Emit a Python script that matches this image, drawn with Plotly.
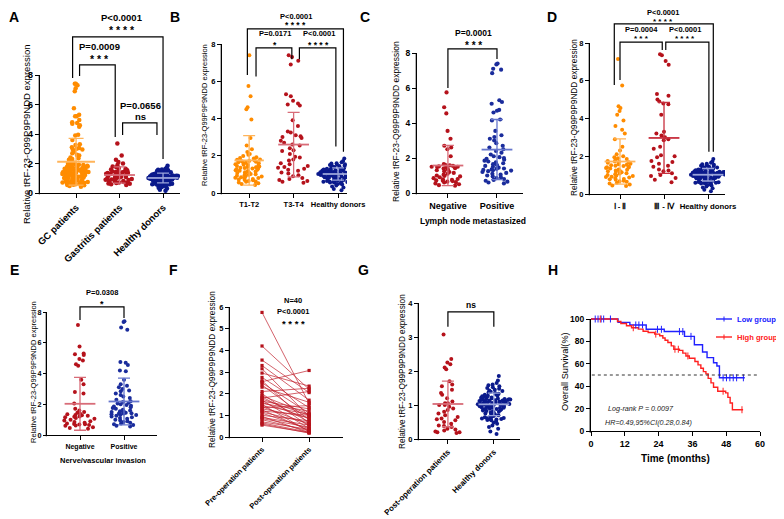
import plotly.graph_objects as go

W, H = 784, 519
# the page body shifts the figure by 8px; positions below are reference-picture pixels
OX, OY = 8, 8
FONT = "Arial, 'Liberation Sans', Helvetica, sans-serif"

ORANGE = "#FF8C00"
DKRED = "#B5121B"
NAVY = "#0B1A8C"
BLUE2 = "#1A2C9C"
ORANGE_M = "#FFB45A"
RED_M = "#D86C78"
NAVY_M = "#9AA4DA"
BLUE2_M = "#6676CC"

# ---------------- data ----------------
healthy_donors = [0.15, 0.22, 0.30, 0.35, 0.40, 0.45, 0.48, 0.52, 0.55, 0.56, 0.57, 0.58, 0.59, 0.60,
                  0.61, 0.62, 0.63, 0.64, 0.66, 0.68, 0.70, 0.72, 0.74, 0.75, 0.77, 0.78, 0.80, 0.81,
                  0.82, 0.84, 0.85, 0.86, 0.87, 0.88, 0.89, 0.90, 0.91, 0.92, 0.92, 0.93, 0.94, 0.95,
                  0.95, 0.96, 0.97, 0.97, 0.98, 0.99, 1.00, 1.00, 1.01, 1.02, 1.02, 1.03, 1.04, 1.04,
                  1.05, 1.05, 1.06, 1.07, 1.08, 1.09, 1.10, 1.10, 1.11, 1.12, 1.12, 1.13, 1.13, 1.14,
                  1.15, 1.15, 1.16, 1.16, 1.17, 1.18, 1.18, 1.19, 1.20, 1.21, 1.22, 1.23, 1.24, 1.25,
                  1.26, 1.27, 1.28, 1.30, 1.31, 1.33, 1.35, 1.37, 1.39, 1.41, 1.43, 1.45, 1.48, 1.50,
                  1.52, 1.55, 1.58, 1.60, 1.65, 1.72, 1.85]

t1_t2 = [7.40, 5.75, 5.20, 4.60, 4.50, 3.95, 2.95, 2.55, 2.35, 2.20, 2.10, 2.05, 1.98, 1.92,
         1.88, 1.85, 1.80, 1.78, 1.75, 1.72, 1.70, 1.68, 1.65, 1.62, 1.60, 1.58, 1.55, 1.52,
         1.50, 1.48, 1.45, 1.42, 1.40, 1.38, 1.36, 1.34, 1.32, 1.30, 1.28, 1.25, 1.22, 1.20,
         1.18, 1.15, 1.12, 1.10, 1.08, 1.05, 1.02, 1.00, 0.98, 0.95, 0.92, 0.90, 0.88, 0.85,
         0.82, 0.80, 0.78, 0.75, 0.72, 0.70, 0.68, 0.65, 0.62, 0.60, 0.56, 0.52, 0.48, 0.43]
t3_t4 = [7.40, 7.30, 7.10, 6.90, 5.30, 5.20, 4.95, 4.80, 4.75, 4.70, 3.90, 3.60, 3.30, 3.25,
         3.10, 3.05, 3.00, 2.95, 2.80, 2.70, 2.60, 2.55, 2.40, 2.30, 2.25, 2.10, 1.95, 1.90,
         1.80, 1.75, 1.60, 1.55, 1.45, 1.40, 1.35, 1.30, 1.25, 1.20, 1.10, 1.05, 0.95, 0.90,
         0.80, 0.75, 0.70, 0.65, 0.60, 0.55]
gc_patients = t1_t2 + t3_t4
gastritis_patients = [3.35, 2.55, 2.25, 2.10, 2.00, 1.90, 1.80, 1.75, 1.70, 1.65, 1.60, 1.55,
                      1.50, 1.48, 1.45, 1.42, 1.40, 1.38, 1.35, 1.32, 1.30, 1.28, 1.25, 1.22,
                      1.20, 1.18, 1.15, 1.12, 1.10, 1.08, 1.05, 1.02, 1.00, 0.98, 0.95, 0.92,
                      0.90, 0.88, 0.85, 0.82, 0.80, 0.78, 0.75, 0.72, 0.70, 0.68, 0.65, 0.62,
                      0.60, 0.55]

lymph_negative = [5.75, 4.90, 4.55, 3.55, 3.10, 2.70, 2.60, 2.50, 2.10, 1.65, 1.60, 1.58, 1.55,
                  1.52, 1.50, 1.50, 1.48, 1.45, 1.42, 1.40, 1.35, 1.30, 1.25, 1.20, 1.15, 1.10,
                  1.05, 1.00, 0.98, 0.95, 0.90, 0.85, 0.80, 0.78, 0.75, 0.72, 0.70, 0.68, 0.65,
                  0.62, 0.60, 0.55, 0.50, 0.45, 0.42]
lymph_positive = [7.40, 7.35, 7.10, 7.05, 6.85, 5.30, 5.20, 5.10, 4.75, 4.70, 4.60, 4.20, 4.15,
                  3.55, 3.30, 3.20, 3.10, 3.00, 2.85, 2.70, 2.60, 2.50, 2.40, 2.30, 2.20, 2.10,
                  2.05, 2.00, 1.95, 1.90, 1.85, 1.80, 1.75, 1.70, 1.65, 1.60, 1.55, 1.50, 1.45,
                  1.40, 1.38, 1.35, 1.32, 1.30, 1.28, 1.25, 1.20, 1.15, 1.10, 1.05, 1.00, 0.95,
                  0.90, 0.85, 0.80, 0.75, 0.70, 0.65, 0.60, 0.55]

stage_1_2 = [7.15, 5.75, 4.65, 4.55, 4.40, 4.20, 3.90, 3.60, 3.40, 3.20, 2.90, 2.50, 2.30, 2.10,
             2.00, 1.95, 1.90, 1.85, 1.80, 1.75, 1.72, 1.70, 1.68, 1.65, 1.60, 1.58, 1.55, 1.52,
             1.50, 1.48, 1.45, 1.42, 1.40, 1.38, 1.35, 1.30, 1.28, 1.25, 1.22, 1.20, 1.18, 1.15,
             1.10, 1.08, 1.05, 1.00, 0.98, 0.95, 0.92, 0.90, 0.88, 0.85, 0.80, 0.78, 0.75, 0.70,
             0.68, 0.65, 0.60, 0.55, 0.50, 0.45, 0.42]
stage_3_4 = [7.40, 7.35, 7.05, 6.85, 5.30, 5.20, 5.00, 4.90, 4.80, 4.75, 4.20, 3.30, 3.20, 3.10,
             3.00, 2.90, 2.85, 2.50, 2.40, 2.05, 2.00, 1.95, 1.75, 1.70, 1.60, 1.50, 1.45, 1.30,
             1.25, 1.20, 1.10, 1.00, 0.95, 0.85, 0.75, 0.62]

invasion_negative = [7.15, 5.75, 5.30, 5.25, 5.20, 4.95, 4.85, 4.60, 4.50, 3.60, 3.30, 2.80, 2.70,
                     2.05, 1.70, 1.60, 1.50, 1.45, 1.40, 1.35, 1.30, 1.28, 1.25, 1.20, 1.18, 1.15,
                     1.10, 1.05, 1.00, 0.95, 0.90, 0.85, 0.80, 0.75, 0.72, 0.70, 0.68, 0.65, 0.62,
                     0.60, 0.50, 0.45, 0.40]
invasion_positive = [7.40, 7.35, 7.00, 6.85, 4.75, 4.70, 4.55, 4.20, 4.15, 3.60, 3.30, 3.20, 3.10,
                     3.00, 2.90, 2.85, 2.70, 2.60, 2.50, 2.40, 2.30, 2.20, 2.15, 2.10, 2.05, 2.00,
                     1.95, 1.90, 1.85, 1.80, 1.75, 1.70, 1.65, 1.60, 1.55, 1.52, 1.50, 1.48, 1.45,
                     1.42, 1.40, 1.38, 1.35, 1.32, 1.30, 1.25, 1.20, 1.15, 1.10, 1.05, 1.00, 0.95,
                     0.90, 0.85, 0.80, 0.75, 0.70, 0.65, 0.60, 0.55]

pre_operation = [5.75, 4.20, 3.55, 3.30, 3.15, 2.95, 2.75, 2.60, 2.55, 2.50, 2.40, 2.30, 2.10, 2.00,
                 1.90, 1.85, 1.80, 1.75, 1.70, 1.65, 1.60, 1.55, 1.50, 1.45, 1.40, 1.35, 1.30, 1.25,
                 1.20, 1.15, 1.10, 1.00, 0.95, 0.90, 0.85, 0.80, 0.70, 0.65, 0.60, 0.55]
post_operation = [1.55, 2.20, 2.05, 1.70, 0.95, 2.35, 1.35, 0.60, 3.07, 1.10, 0.80, 1.60, 2.25, 0.50,
                  1.05, 0.70, 2.10, 1.00, 0.40, 1.30, 0.85, 1.20, 0.25, 1.05, 0.58, 1.45, 0.90, 0.30,
                  1.00, 0.65, 0.38, 0.75, 0.20, 0.55, 0.45, 0.28, 0.35, 0.22, 0.18, 0.20]

# group means and SD
A_means, A_sds = [2.12, 1.22, 1.02], [1.58, 0.55, 0.33]
B_means, B_sds = [1.75, 2.60, 1.02], [1.33, 1.73, 0.33]
C_means, C_sds = [1.57, 2.48], [1.15, 1.72]
D_means, D_sds = [1.72, 2.97, 1.02], [1.20, 1.88, 0.33]
E_means, E_sds = [2.03, 2.18], [1.72, 1.52]
G_means, G_sds = [1.03, 1.02], [0.67, 0.33]

# survival (Kaplan-Meier steps)
low_time = [0, 9.6, 13.8, 19.6, 26.0, 33.2, 36.7, 39.6, 41.2, 43.5, 44.7, 45.6, 54.6]
low_surv = [100, 97, 94.7, 90.8, 88.8, 84.5, 77, 70.5, 65.5, 61, 58, 47.5, 47.5]
high_time = [0, 9.4, 10.6, 12.6, 14.4, 16.8, 18.5, 20.3, 22.6, 24.4, 25.5, 26.3, 27.3, 28.5, 29.4,
             31.4, 32.6, 33.7, 34.9, 36.9, 38.0, 39.0, 39.9, 40.8, 41.6, 42.6, 43.5, 45.0, 47.8,
             48.6, 49.4, 50.2, 54.0]
high_surv = [100, 97.8, 96, 94, 92.2, 91, 89, 88, 86.5, 85, 83, 81, 79, 76, 73, 72, 69.5, 67, 65,
             62, 59, 56, 53, 51, 47, 43, 39, 35.5, 34, 30, 25, 19, 19]
low_censor = [1.5, 2.5, 3.6, 4.5, 6.9, 15.9, 17.0, 18.3, 23.6, 25.0, 31.4, 32.6, 35.5,
              46.9, 48.1, 49.3, 50.5, 51.7, 54.1]
high_censor = [3.3, 15.0, 23.0, 29.8, 31.0, 34.4, 46.9, 53.6]
legend_labels = ['Low group', 'High group']

# ---------------- helpers ----------------
def pxx(p):
    return (p - OX) / W


def pxy(p):
    return 1 - (p - OY) / H


layout_axes = {}
shapes = []
annotations = []
traces = []


def xn(i):
    return 'x' if i == 1 else f'x{i}'


def yn(i):
    return 'y' if i == 1 else f'y{i}'


def add_panel(i, x0, x1, ybot, ytop_px, ytop_val, dtick, domtop, xr, tickvals, ticktext,
              tickangle=0, xfont=8, yfont=8, lw=1.3, yticklen=4):
    pxu = (ybot - ytop_px) / ytop_val
    yr_top = (ybot - domtop) / pxu
    tf = dict(size=xfont, family=FONT, color='black', weight='bold')
    xa = dict(domain=[pxx(x0), pxx(x1)], range=xr, anchor=yn(i), showline=True,
              linecolor='black', linewidth=lw, ticks='outside', ticklen=4, tickwidth=1.2,
              tickcolor='black', showgrid=False, zeroline=False, tickangle=tickangle,
              tickfont=tf, tickmode='array', tickvals=tickvals, ticktext=ticktext,
              fixedrange=True, automargin=False, type='linear')
    yv = list(range(0, ytop_val + 1, dtick))
    ya = dict(domain=[pxy(ybot), pxy(domtop)], range=[0, yr_top], anchor=xn(i), showline=False,
              ticks='outside', ticklen=yticklen, tickwidth=1.2, tickcolor='black', showgrid=False,
              zeroline=False, tickmode='array', tickvals=yv, ticktext=[str(v) for v in yv],
              tickfont=dict(size=yfont, family=FONT, color='black', weight='bold'),
              fixedrange=True, automargin=False, type='linear')
    layout_axes['xaxis' + ('' if i == 1 else str(i))] = xa
    layout_axes['yaxis' + ('' if i == 1 else str(i))] = ya
    shapes.append(dict(type='line', xref='paper', yref='paper',
                       x0=pxx(x0 - lw / 2), x1=pxx(x0 - lw / 2),
                       y0=pxy(ybot + lw), y1=pxy(ybot) + ytop_val * pxu / H,
                       line=dict(color='black', width=lw)))


def dot_group(i, pos, vals, color, size, width, mean, sd, mcolor, mw=22, cap=6):
    traces.append(go.Box(y=vals, x0=pos, xaxis=xn(i), yaxis=yn(i), boxpoints='all', jitter=1,
                         pointpos=0, width=width, fillcolor='rgba(0,0,0,0)',
                         line=dict(color='rgba(0,0,0,0)', width=0),
                         marker=dict(color=color, size=size, line=dict(width=0)),
                         showlegend=False, hoverinfo='y'))
    traces.append(go.Scatter(x=[pos], y=[mean], xaxis=xn(i), yaxis=yn(i), mode='markers',
                             marker=dict(symbol='line-ew', size=mw, color=mcolor,
                                         line=dict(color=mcolor, width=1.8)),
                             error_y=dict(type='data', array=[sd], visible=True, color=mcolor,
                                          thickness=1.3, width=cap),
                             showlegend=False, hoverinfo='y'))


def bracket(i, xl, xr, ybar, yl, yr):
    traces.append(go.Scatter(x=[xl, xl, xr, xr], y=[yl, ybar, ybar, yr], xaxis=xn(i), yaxis=yn(i),
                             mode='lines', line=dict(color='black', width=1.2),
                             showlegend=False, hoverinfo='skip'))


def ann(i, x, y, text, size, bold=True):
    annotations.append(dict(xref=xn(i), yref=yn(i), x=x, y=y, text=f'<b>{text}</b>' if bold else text,
                            showarrow=False, xanchor='center', yanchor='middle',
                            font=dict(size=size, family=FONT, color='black')))


def paper_text(xp, yp, text, size, angle=0, bold=False, italic=False, color='black', xanchor='center'):
    t = text
    if bold:
        t = f'<b>{t}</b>'
    if italic:
        t = f'<i>{t}</i>'
    annotations.append(dict(xref='paper', yref='paper', x=pxx(xp), y=pxy(yp), text=t,
                            showarrow=False, xanchor=xanchor, yanchor='middle', textangle=angle,
                            font=dict(size=size, family=FONT, color=color)))


YTITLE = 'Relative tRF-23-Q99P9P9NDD expression'

# ---------------- Panel A ----------------
A_cats = ['GC patients', 'Gastritis patients', 'Healthy donors']
add_panel(1, 40, 180, 193, 75, 8, 2, 10, [-0.83, 2.39], [0, 1, 2], A_cats,
          tickangle=-45, xfont=9.5, yfont=9.5)
dot_group(1, 0, gc_patients, ORANGE, 4.5, 0.64, A_means[0], A_sds[0], ORANGE_M, mw=27, cap=7.5)
dot_group(1, 1, gastritis_patients, DKRED, 4.5, 0.66, A_means[1], A_sds[1], RED_M)
dot_group(1, 2, healthy_donors, NAVY, 4.5, 0.69, A_means[2], A_sds[2], NAVY_M)
bracket(1, -0.08, 2.0, 10.58, 7.8, 2.3)
bracket(1, 0.08, 0.9, 8.68, 7.93, 3.8)
bracket(1, 1.07, 1.86, 4.75, 3.93, 3.93)
ann(1, 1.05, 11.9, 'P&lt;0.0001', 9.5)
ann(1, 1.05, 11.05, '* * * *', 10.5)
ann(1, 0.53, 9.9, 'P=0.0009', 9.5)
ann(1, 0.53, 9.08, '* * *', 10.5)
ann(1, 1.47, 5.9, 'P=0.0656', 9.5)
ann(1, 1.47, 5.22, 'ns', 9.5)
paper_text(26, 134, YTITLE, 9.5, angle=-90)

# ---------------- Panel B ----------------
B_cats = ['T1-T2', 'T3-T4', 'Healthy donors']
add_panel(2, 222, 347, 193, 44, 8, 2, 10, [-0.61, 2.2], [0, 1, 2], B_cats, xfont=7.5, yfont=7.5)
dot_group(2, 0, t1_t2, ORANGE, 4, 0.68, B_means[0], B_sds[0], ORANGE_M, mw=21, cap=6)
dot_group(2, 1, t3_t4, DKRED, 4, 0.85, B_means[1], B_sds[1], RED_M, mw=22, cap=6)
dot_group(2, 2, healthy_donors, NAVY, 4, 0.92, B_means[2], B_sds[2], NAVY_M, mw=22, cap=6)
bracket(2, -0.04, 2.12, 8.81, 6.34, 2.22)
bracket(2, 0.155, 0.96, 7.79, 6.25, 7.18)
bracket(2, 1.13, 1.95, 7.79, 7.18, 2.49)
ann(2, 1.05, 9.48, 'P&lt;0.0001', 7.5)
ann(2, 1.05, 9.02, '* * * *', 8.5)
ann(2, 0.58, 8.54, 'P=0.0171', 7.5)
ann(2, 0.58, 7.95, '*', 8.5)
ann(2, 1.56, 8.54, 'P&lt;0.0001', 7.5)
ann(2, 1.56, 7.95, '* * * *', 8.5)
paper_text(204, 115, YTITLE, 7.5, angle=-90)

# ---------------- Panel C ----------------
C_cats = ['Negative', 'Positive']
add_panel(3, 417, 523, 193, 53, 8, 2, 26, [-0.63, 1.53], [0, 1], C_cats, xfont=9, yfont=8.5)
dot_group(3, 0, lymph_negative, DKRED, 4.2, 0.71, C_means[0], C_sds[0], RED_M)
dot_group(3, 1, lymph_positive, BLUE2, 4.2, 0.65, C_means[1], C_sds[1], BLUE2_M)
bracket(3, 0.0, 1.0, 8.23, 6.0, 7.66)
ann(3, 0.52, 9.14, 'P=0.0001', 8.5)
ann(3, 0.52, 8.45, '* * *', 10)
paper_text(396, 122, YTITLE, 8.5, angle=-90)
paper_text(473, 221, 'Lymph node metastasized', 8.5, bold=True)

# ---------------- Panel D ----------------
D_cats = ['Ⅰ - Ⅱ', 'Ⅲ - Ⅳ', 'Healthy donors']
add_panel(4, 590, 725, 194, 43, 8, 2, 9, [-0.682, 2.386], [0, 1, 2], D_cats, xfont=7.8, yfont=7.5)
dot_group(4, 0, stage_1_2, ORANGE, 4, 0.72, D_means[0], D_sds[0], ORANGE_M)
dot_group(4, 1, stage_3_4, DKRED, 4, 0.72, D_means[1], D_sds[1], "#C8303E")
dot_group(4, 2, healthy_donors, NAVY, 4, 0.8, D_means[2], D_sds[2], NAVY_M)
bracket(4, -0.13, 2.12, 9.01, 5.77, 2.24)
bracket(4, 0.0, 0.96, 8.05, 6.04, 7.63)
bracket(4, 1.04, 2.02, 8.05, 7.63, 2.24)
ann(4, 0.98, 9.64, 'P&lt;0.0001', 7.5)
ann(4, 0.98, 9.14, '* * * *', 8)
ann(4, 0.49, 8.715, 'P=0.0004', 7.5)
ann(4, 0.49, 8.24, '* * *', 8)
ann(4, 1.48, 8.715, 'P&lt;0.0001', 7.5)
ann(4, 1.48, 8.24, '* * * *', 8)
paper_text(574, 118, YTITLE, 8.3, angle=-90)

# ---------------- Panel E ----------------
E_cats = ['Negative', 'Positive']
add_panel(5, 47, 157, 435, 312, 8, 2, 286, [-0.75, 1.75], [0, 1], E_cats, xfont=7, yfont=7.2,
          yticklen=3)
dot_group(5, 0, invasion_negative, DKRED, 4, 0.84, E_means[0], E_sds[0], RED_M)
dot_group(5, 1, invasion_positive, BLUE2, 4, 0.76, E_means[1], E_sds[1], BLUE2_M)
bracket(5, 0.0, 1.0, 8.33, 7.48, 7.61)
ann(5, 0.49, 9.24, 'P=0.0308', 7.5)
ann(5, 0.49, 8.52, '*', 9)
paper_text(33, 372, YTITLE, 7.5, angle=-90)
paper_text(103, 460, 'Nerve/vascular invasion', 7.5, bold=True)

# ---------------- Panel F ----------------
F_cats = ['Pre-operation patients', 'Post-operation patients']
add_panel(6, 230, 343, 437, 307, 6, 1, 294, [-0.68, 1.72], [0, 1], F_cats,
          tickangle=-45, xfont=7.5, yfont=7.5)
fx, fy = [], []
for a, b in zip(pre_operation, post_operation):
    fx += [0, 1, None]
    fy += [a, b, None]
traces.append(go.Scatter(x=fx, y=fy, xaxis='x6', yaxis='y6', mode='lines+markers',
                         line=dict(color='#C0202C', width=0.7),
                         marker=dict(symbol='square', size=3.2, color=DKRED),
                         showlegend=False, hoverinfo='y'))
ann(6, 0.66, 6.28, 'N=40', 7.5)
ann(6, 0.66, 5.77, 'P&lt;0.0001', 7.5)
ann(6, 0.66, 5.22, '* * * *', 9.5)
paper_text(212, 370, YTITLE, 8.3, angle=-90)

# ---------------- Panel G ----------------
G_cats = ['Post-operation patients', 'Healthy donors']
add_panel(7, 419, 520, 439, 303, 4, 1, 295, [-0.63, 1.57], [0, 1], G_cats,
          tickangle=-45, xfont=8, yfont=7.5)
dot_group(7, 0, post_operation, DKRED, 4, 0.72, G_means[0], G_sds[0], RED_M)
dot_group(7, 1, healthy_donors, NAVY, 4, 0.72, G_means[1], G_sds[1], NAVY_M)
bracket(7, 0.0, 1.0, 3.74, 3.3, 3.3)
ann(7, 0.5, 3.94, 'ns', 8.5)
paper_text(402, 372, YTITLE, 8.2, angle=-90)

# ---------------- Panel H ----------------
add_panel(8, 591, 760, 431, 319, 100, 20, 305, [0, 60], [0, 12, 24, 36, 48, 60],
          [str(v) for v in [0, 12, 24, 36, 48, 60]], xfont=9, yfont=8.5, lw=1.4)


def step_at(ts, ss, t):
    v = ss[0]
    for tt, s in zip(ts, ss):
        if tt <= t:
            v = s
    return v


BLUE = '#2020FF'
RED = '#FF2020'
traces.append(go.Scatter(x=low_time, y=low_surv, xaxis='x8', yaxis='y8', mode='lines',
                         line=dict(shape='hv', color=BLUE, width=1.4), name=legend_labels[0],
                         showlegend=False))
traces.append(go.Scatter(x=high_time, y=high_surv, xaxis='x8', yaxis='y8', mode='lines',
                         line=dict(shape='hv', color=RED, width=1.4), name=legend_labels[1],
                         showlegend=False))
traces.append(go.Scatter(x=low_censor, y=[step_at(low_time, low_surv, t) for t in low_censor],
                         xaxis='x8', yaxis='y8', mode='markers',
                         marker=dict(symbol='line-ns', size=5, line=dict(color=BLUE, width=1)),
                         showlegend=False, hoverinfo='skip'))
traces.append(go.Scatter(x=high_censor, y=[step_at(high_time, high_surv, t) for t in high_censor],
                         xaxis='x8', yaxis='y8', mode='markers',
                         marker=dict(symbol='line-ns', size=5, line=dict(color=RED, width=1)),
                         showlegend=False, hoverinfo='skip'))
shapes.append(dict(type='line', xref='x8', yref='y8', x0=0.3, x1=59.3, y0=50, y1=50,
                   line=dict(color='#333333', width=1, dash='dot')))
# legend keys (drawn as decorations); kept inside the visible page width
for label, col, ly in [(legend_labels[0], BLUE, 319), (legend_labels[1], RED, 337)]:
    shapes.append(dict(type='line', xref='paper', yref='paper', x0=pxx(716), x1=pxx(732),
                       y0=pxy(ly), y1=pxy(ly), line=dict(color=col, width=1.4)))
    shapes.append(dict(type='line', xref='paper', yref='paper', x0=pxx(724), x1=pxx(724),
                       y0=pxy(ly - 2.5), y1=pxy(ly + 2.5), line=dict(color=col, width=1)))
    paper_text(735, ly, label, 7.6, bold=True, color=col, xanchor='left')
paper_text(641, 408, 'Log-rank P = 0.0097', 7.2, italic=True, color='#222222')
paper_text(648, 422, 'HR=0.49,95%CI(0.28,0.84)', 7.2, italic=True, color='#222222')
paper_text(675, 458, 'Time (months)', 10, bold=True)
paper_text(565, 372, 'Overall Survival(%)', 9.2, angle=-90)

# ---------------- panel letters ----------------
for letter, (lx, ly) in {'A': (14, 17), 'B': (175, 17), 'C': (365, 17), 'D': (552, 17),
                         'E': (14, 270), 'F': (173, 270), 'G': (363, 270), 'H': (553, 270)}.items():
    paper_text(lx, ly, letter, 14, bold=True)

fig = go.Figure(data=traces)
fig.update_layout(width=W, height=H, margin=dict(l=0, r=0, t=0, b=0, autoexpand=False),
                  paper_bgcolor='white', plot_bgcolor='rgba(0,0,0,0)',
                  font=dict(family=FONT, color='black'), showlegend=False,
                  shapes=shapes, annotations=annotations, boxmode='overlay',
                  **layout_axes)
fig.write_html('out.html')
